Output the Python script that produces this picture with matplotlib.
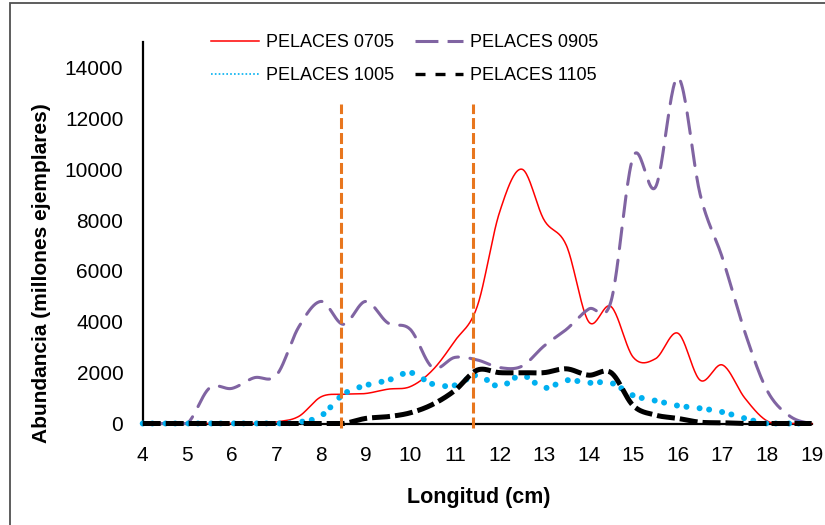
import numpy as np
import matplotlib
matplotlib.use('Agg')
import matplotlib.pyplot as plt
from matplotlib.lines import Line2D
from matplotlib.patches import Rectangle

plt.rcParams['font.family'] = ['Liberation Sans', 'DejaVu Sans']

longitud = [4, 4.5, 5, 5.5, 6, 6.5, 7, 7.5, 8, 8.5, 9, 9.5, 10, 10.5, 11, 11.5,
            12, 12.5, 13, 13.5, 14, 14.5, 15, 15.5, 16, 16.5, 17, 17.5, 18, 18.5, 19]

pelaces_0705 = [0, 0, 0, 0, 0, 0, 60, 280, 1050, 1150, 1180, 1350, 1450, 2100, 3250, 4600,
                8300, 10000, 8000, 7000, 4000, 4600, 2600, 2550, 3550, 1700, 2300, 1000, 100, 0, 0]
pelaces_0905 = [0, 0, 0, 1400, 1380, 1800, 1900, 3800, 4800, 3900, 4800, 3950, 3700, 2200, 2600, 2500,
                2200, 2250, 3050, 3700, 4500, 4800, 10500, 9300, 13600, 9000, 6500, 3600, 1300, 300, 0]
pelaces_1005 = [0, 0, 0, 0, 0, 0, 0, 50, 300, 1150, 1500, 1700, 2000, 1550, 1500, 1900,
                1450, 1900, 1400, 1700, 1600, 1600, 1100, 900, 700, 600, 450, 200, 0, 0, 0]
pelaces_1105 = [0, 0, 0, 0, 0, 0, 0, 0, 0, 0, 200, 270, 420, 750, 1300, 2100,
                2000, 2000, 2000, 2150, 1900, 2000, 700, 330, 200, 50, 30, 0, 0, 0, 0]

lineas_corte = [8.44, 11.40]


def smooth(x, y, n=24):
    # Excel-like smoothed line (Catmull-Rom), no dip below zero
    x = np.asarray(x, float)
    y = np.asarray(y, float)
    yp = np.concatenate([[y[0]], y, [y[-1]]])
    t = np.linspace(0, 1, n, endpoint=False)
    xs, ys = [], []
    for i in range(len(x) - 1):
        p0, p1, p2, p3 = yp[i], yp[i + 1], yp[i + 2], yp[i + 3]
        xs.append(x[i] + (x[i + 1] - x[i]) * t)
        ys.append(0.5 * (2 * p1 + (p2 - p0) * t + (2 * p0 - 5 * p1 + 4 * p2 - p3) * t ** 2
                         + (3 * p1 - p0 - 3 * p2 + p3) * t ** 3))
    xs.append([x[-1]])
    ys.append([y[-1]])
    return np.concatenate(xs), np.maximum(np.concatenate(ys), 0)


fig = plt.figure(figsize=(8.25, 5.25), dpi=100)
ax = fig.add_axes([142.7 / 825, 1 - 423.5 / 525, 669 / 825, 381.5 / 525])

x, y = smooth(longitud, pelaces_0705)
ax.plot(x, y, color='#FF0000', lw=1.1, clip_on=False, zorder=3)
x, y = smooth(longitud, pelaces_0905)
ax.plot(x, y, color='#8064A2', lw=2.2, dashes=(6.8, 3.8), dash_capstyle='round',
        clip_on=False, zorder=3)
x, y = smooth(longitud, pelaces_1005)
ax.plot(x, y, color='#00B0F0', lw=4.3, dashes=(0.01, 1.6, 0.01, 2.2), dash_capstyle='round',
        clip_on=False, zorder=3)
x, y = smooth(longitud, pelaces_1105)
ax.plot(x, y, color='black', lw=3.6, dashes=(3.6, 1.0), clip_on=False, zorder=4)

for xc in lineas_corte:
    ax.plot([xc, xc], [-180, 12560], color='#E8761E', lw=2.2, dashes=(3.6, 1.3),
            clip_on=False, zorder=5)

ax.set_xlim(4, 19)
ax.set_ylim(0, 15000)
ax.set_xticks(range(4, 20))
ax.set_yticks(range(0, 14001, 2000))
ax.tick_params(length=0, labelsize=15)
ax.tick_params(axis='x', pad=16)
ax.tick_params(axis='y', pad=14)
for s in ['top', 'right']:
    ax.spines[s].set_visible(False)
for s in ['left', 'bottom']:
    ax.spines[s].set_linewidth(1.6)
    ax.spines[s].set_color('black')

ax.set_xlabel('Longitud (cm)', fontsize=15.5, fontweight='bold')
ax.xaxis.set_label_coords(0.503, -0.166)
ax.set_ylabel('Abundancia (millones ejemplares)', fontsize=15, fontweight='bold')
ax.yaxis.set_label_coords(-0.137, 0.395)

handles = [
    Line2D([], [], color='#FF0000', lw=1.1),
    Line2D([], [], color='#00B0F0', lw=1.2, dashes=(1, 1.3)),
    Line2D([], [], color='#8064A2', lw=2.2, dashes=(7.5, 3)),
    Line2D([], [], color='black', lw=2.4, dashes=(3, 3)),
]
labels = ['PELACES 0705', 'PELACES 1005', 'PELACES 0905', 'PELACES 1105']
fig.legend(handles, labels, ncol=2, loc='upper left', bbox_to_anchor=(211 / 825, 1 - 34 / 525),
           frameon=False, fontsize=13, handlelength=2.65, handletextpad=0.4,
           columnspacing=1.15, labelspacing=0.9, borderpad=0, borderaxespad=0)

fig.patches.append(Rectangle((10 / 825, -0.1), 1.2, 1.1 - 3.5 / 525, transform=fig.transFigure,
                             fill=False, edgecolor='#505050', lw=1.3))

fig.savefig('out.png', dpi=100)
